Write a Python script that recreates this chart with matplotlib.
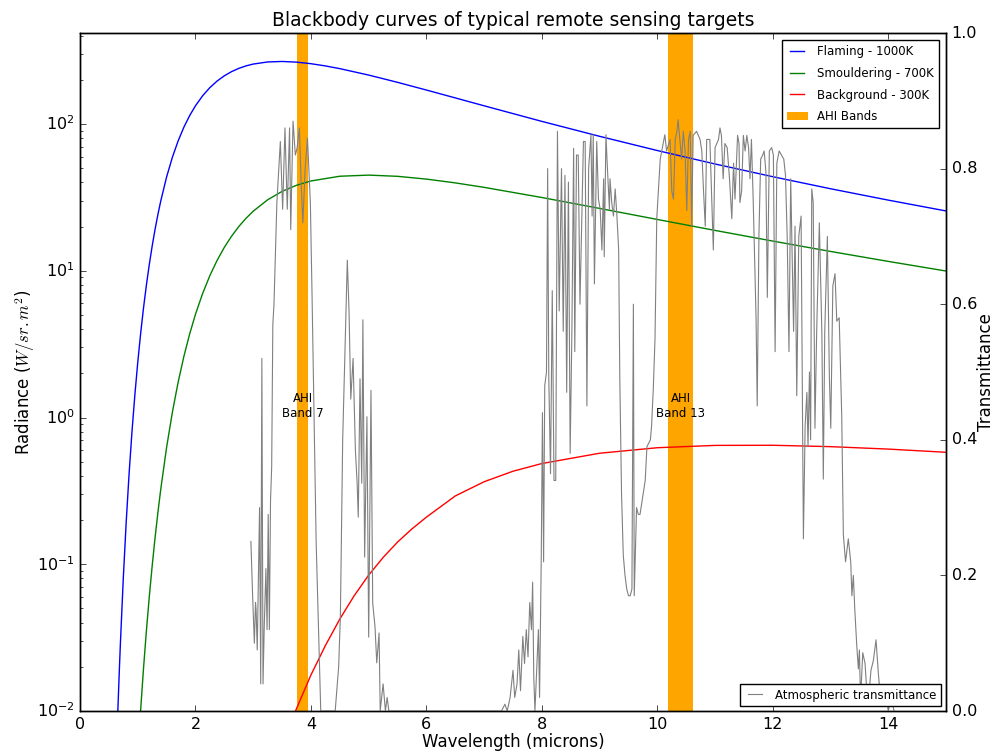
import matplotlib
matplotlib.use('Agg')
import matplotlib.pyplot as plt

plt.style.use('classic')
plt.rcParams['font.family'] = ['DejaVu Sans']

# ---------------- data ----------------
flaming_wl = [0.62, 0.65, 0.68, 0.70, 0.75, 0.80, 0.85, 0.90, 0.95, 1.0, 1.05, 1.1, 1.15, 1.2,
              1.25, 1.3, 1.35, 1.4, 1.5, 1.6, 1.7, 1.8, 1.9, 2.0, 2.125, 2.25, 2.375, 2.5,
              2.625, 2.75, 2.875, 3.0, 3.25, 3.5, 3.75, 4.0, 4.25, 4.5, 5, 5.5, 6, 6.5, 7, 8,
              9, 10, 11, 12, 13, 14, 15]
flaming_rad = [0.00385, 0.00876, 0.0184, 0.0290, 0.0805, 0.193, 0.412, 0.797, 1.4216, 2.369,
               3.725, 5.572, 7.985, 11.02, 14.73, 19.14, 24.25, 30.03, 43.56, 59.31, 76.74,
               95.26, 114.21, 133.1, 155.91, 177.1, 196.29, 213.1, 227.45, 239.3, 248.86,
               256.1, 264.73, 266.8, 263.98, 257.6, 248.78, 238.4, 215.5, 192.3, 170.4, 150.6,
               133.05, 104.2, 82.43, 65.95, 53.40, 43.74, 36.21, 30.29, 25.56]

smoulder_wl = [1.0, 1.05, 1.1, 1.15, 1.2, 1.25, 1.3, 1.35, 1.4, 1.5, 1.6, 1.7, 1.8, 1.9, 2.0,
               2.125, 2.25, 2.375, 2.5, 2.625, 2.75, 2.875, 3.0, 3.25, 3.5, 3.75, 4.0, 4.5,
               5.0, 5.5, 6, 6.5, 7, 8, 9, 10, 11, 12, 13, 14, 15]
smoulder_rad = [0.00488, 0.01013, 0.01949, 0.03517, 0.05998, 0.09734, 0.1513, 0.22628, 0.3271,
                0.6261, 1.0866, 1.7417, 2.6145, 3.7169, 5.048, 7.0145, 9.277, 11.772, 14.44,
                17.198, 20.00, 22.764, 25.45, 30.441, 34.74, 38.228, 40.91, 44.06, 44.85,
                44.00, 42.13, 39.70, 37.01, 31.56, 26.60, 22.36, 18.83, 15.93, 13.54, 11.58,
                9.959]

backgr_wl = [3.6, 3.75, 4.0, 4.25, 4.5, 4.75, 5.0, 5.25, 5.5, 5.75, 6.0, 6.5, 7.0, 7.5,
             8, 9, 10, 11, 12, 13, 14, 15]
backgr_rad = [0.0072, 0.01038, 0.0176, 0.0279, 0.0423, 0.0611, 0.0843, 0.1112, 0.1416, 0.1742,
              0.2094, 0.292, 0.365, 0.4304, 0.4856, 0.5708, 0.6224, 0.6455, 0.6468, 0.6330,
              0.6092, 0.5794]

band_names = ['AHI\nBand 7', 'AHI\nBand 13']
band_lo = [3.76, 10.19]
band_hi = [3.95, 10.62]

trans_wl = [
    2.96, 2.99, 3.02, 3.04, 3.05, 3.07, 3.09, 3.11, 3.13, 3.15, 3.17, 3.19, 3.22, 3.24, 3.26,
    3.28, 3.30, 3.32, 3.34, 3.36, 3.41, 3.47, 3.51, 3.55, 3.59, 3.63, 3.65, 3.69, 3.73, 3.76,
    3.80, 3.83, 3.86, 3.90, 3.94, 3.99, 4.02, 4.09, 4.17,
    4.42, 4.48, 4.51, 4.55, 4.63, 4.66, 4.69, 4.73, 4.77, 4.80, 4.82, 4.85, 4.88, 4.90, 4.93,
    4.97, 5.00, 5.04, 5.07, 5.11, 5.14, 5.18, 5.20, 5.25, 5.29, 5.32, 5.35,
    7.30, 7.36, 7.40, 7.45, 7.50, 7.53, 7.57, 7.60, 7.63, 7.67, 7.70, 7.73, 7.76, 7.79, 7.82,
    7.84, 7.86, 7.88, 7.91, 7.94, 7.96, 7.99, 8.01, 8.03, 8.05, 8.08, 8.10, 8.12, 8.15, 8.18,
    8.21, 8.24, 8.27, 8.30, 8.34, 8.37, 8.40, 8.43, 8.46, 8.49, 8.52, 8.55, 8.57, 8.60, 8.63,
    8.66, 8.72, 8.75, 8.78, 8.81, 8.85, 8.87, 8.89, 8.91, 8.95, 8.98, 9.01, 9.04, 9.07, 9.08,
    9.11, 9.13, 9.17, 9.18, 9.21, 9.24, 9.27, 9.30, 9.33, 9.35, 9.38, 9.41, 9.44, 9.47, 9.50,
    9.53, 9.56, 9.585, 9.60, 9.64, 9.67,
    9.70, 9.79, 9.82, 9.88, 9.90, 9.93, 9.96, 9.99, 10.05, 10.13, 10.16, 10.22, 10.25, 10.28,
    10.31, 10.34, 10.36, 10.39, 10.42, 10.45, 10.48, 10.51, 10.54, 10.57, 10.595, 10.62, 10.68,
    10.74, 10.77, 10.80, 10.83, 10.855, 10.91, 10.97, 11.00, 11.06, 11.085, 11.11, 11.14, 11.17,
    11.21, 11.25, 11.29, 11.32, 11.345, 11.39, 11.415, 11.43, 11.46, 11.49, 11.52, 11.55, 11.58,
    11.605, 11.63, 11.66, 11.71, 11.73, 11.76, 11.79, 11.825, 11.85, 11.88, 11.905, 11.94, 11.98,
    12.01, 12.04, 12.07, 12.11, 12.15, 12.19, 12.22, 12.25, 12.28, 12.31,
    12.36, 12.385, 12.415, 12.45, 12.49, 12.515, 12.53, 12.56, 12.59, 12.61, 12.635, 12.655,
    12.675, 12.70, 12.73, 12.76, 12.806, 12.85, 12.875, 12.90, 12.945, 12.98, 13.004, 13.04,
    13.078, 13.108, 13.15, 13.194, 13.222, 13.26, 13.308, 13.35, 13.37, 13.395, 13.42, 13.454,
    13.482, 13.50, 13.52, 13.558, 13.598, 13.62, 13.672, 13.70, 13.741, 13.788, 13.828, 13.857,
    13.90, 13.95, 14.00, 14.05, 14.10]
trans_val = [
    0.25, 0.17, 0.10, 0.16, 0.15, 0.09, 0.20, 0.30, 0.04, 0.52, 0.04, 0.12, 0.21, 0.12, 0.29,
    0.12, 0.31, 0.36, 0.57, 0.60, 0.75, 0.84, 0.74, 0.86, 0.74, 0.86, 0.71, 0.87, 0.82, 0.83,
    0.86, 0.78, 0.72, 0.80, 0.845, 0.75, 0.61, 0.25, 0.0,
    0.0, 0.065, 0.14, 0.40, 0.665, 0.59, 0.46, 0.52, 0.385, 0.336, 0.286, 0.49, 0.336, 0.577, 0.227,
    0.434, 0.109, 0.473, 0.159, 0.124, 0.071, 0.115, 0.0, 0.04, 0.0, 0.02, 0.0,
    0.0, 0.01, 0.0, 0.02, 0.06, 0.02, 0.04, 0.09, 0.03, 0.11, 0.07, 0.12, 0.08, 0.16, 0.12,
    0.19, 0.05, 0.0, 0.06, 0.12, 0.02, 0.23, 0.44, 0.22, 0.48, 0.50, 0.80, 0.49, 0.35, 0.62,
    0.34, 0.34, 0.855, 0.59, 0.80, 0.56, 0.79, 0.47, 0.78, 0.38, 0.56, 0.83, 0.53, 0.82, 0.82,
    0.60, 0.84, 0.84, 0.45, 0.80, 0.85, 0.73, 0.85, 0.63, 0.84, 0.755, 0.74, 0.68, 0.785, 0.67,
    0.85, 0.81, 0.74, 0.785, 0.75, 0.73, 0.77, 0.73, 0.68, 0.49, 0.32, 0.23, 0.20, 0.18, 0.17,
    0.17, 0.18, 0.60, 0.17, 0.30, 0.29,
    0.29, 0.34, 0.39, 0.40, 0.42, 0.475, 0.55, 0.726, 0.814, 0.85, 0.826, 0.843, 0.767, 0.755,
    0.843, 0.855, 0.872, 0.843, 0.814, 0.855, 0.826, 0.738, 0.843, 0.855, 0.715, 0.849, 0.855,
    0.843, 0.826, 0.767, 0.715, 0.843, 0.843, 0.68, 0.831, 0.843, 0.86, 0.849, 0.785, 0.837,
    0.831, 0.785, 0.726, 0.808, 0.755, 0.849, 0.837, 0.75, 0.767, 0.849, 0.826, 0.849, 0.831,
    0.785, 0.843, 0.755, 0.58, 0.45, 0.703, 0.814, 0.82, 0.826, 0.796, 0.61, 0.826, 0.831,
    0.82, 0.53, 0.808, 0.826, 0.82, 0.814, 0.79, 0.697, 0.53, 0.785,
    0.56, 0.715, 0.465, 0.70, 0.73, 0.42, 0.254, 0.42, 0.47, 0.39, 0.50, 0.40,
    0.77, 0.75, 0.417, 0.56, 0.72, 0.557, 0.342, 0.56, 0.70, 0.493, 0.417, 0.627,
    0.645, 0.575, 0.58, 0.435, 0.26, 0.22, 0.254, 0.22, 0.17, 0.20, 0.15, 0.097,
    0.062, 0.09, 0.016, 0.086, 0.07, 0.04, 0.03, 0.06, 0.074, 0.105, 0.056, 0.027,
    0.01, 0.03, 0.0, 0.02, 0.0]

# ---------------- figure ----------------
fig = plt.figure(figsize=(9.95, 7.52), dpi=100, facecolor='white')
ax = fig.add_axes([80 / 995, 1 - 711 / 752, 866 / 995, 678 / 752])
ax.set_facecolor('white')

ax.semilogy(flaming_wl, flaming_rad, color='b', lw=1, label='Flaming - 1000K')
ax.semilogy(smoulder_wl, smoulder_rad, color='g', lw=1, label='Smouldering - 700K')
ax.semilogy(backgr_wl, backgr_rad, color='r', lw=1, label='Background - 300K')
for i, (lo, hi) in enumerate(zip(band_lo, band_hi)):
    ax.axvspan(lo, hi, color='orange', lw=0, zorder=1,
               label='AHI Bands' if i == 0 else None)
    ax.text((lo + hi) / 2, 1.2, band_names[i], ha='center', va='center',
            multialignment='center', fontsize=8.5, zorder=5)

ax.set_xlim(0, 15)
ax.set_ylim(0.01, 417)
ax.set_xticks([0, 2, 4, 6, 8, 10, 12, 14])
ax.tick_params(labelsize=11.5)
ax.set_xlabel('Wavelength (microns)', fontsize=12, labelpad=1)
ax.set_ylabel(r'Radiance ($W/sr.m^2$)', fontsize=12, labelpad=0)
ax.set_title('Blackbody curves of typical remote sensing targets', fontsize=13.5)
ax.legend(loc='upper right', fontsize=8.5, labelspacing=0.75, borderaxespad=0.6,
          handlelength=1.8)

ax2 = ax.twinx()
ax2.plot(trans_wl, trans_val, color='0.5', lw=0.8, label='Atmospheric transmittance')
ax2.set_ylim(0, 1)
ax2.set_xlim(0, 15)
ax2.tick_params(labelsize=11.5)
ax2.set_ylabel('Transmittance', fontsize=12, labelpad=0)
ax2.legend(loc='lower right', fontsize=8.5, borderaxespad=0.4, handlelength=1.8)

fig.savefig('out.png', dpi=100, facecolor='white')
